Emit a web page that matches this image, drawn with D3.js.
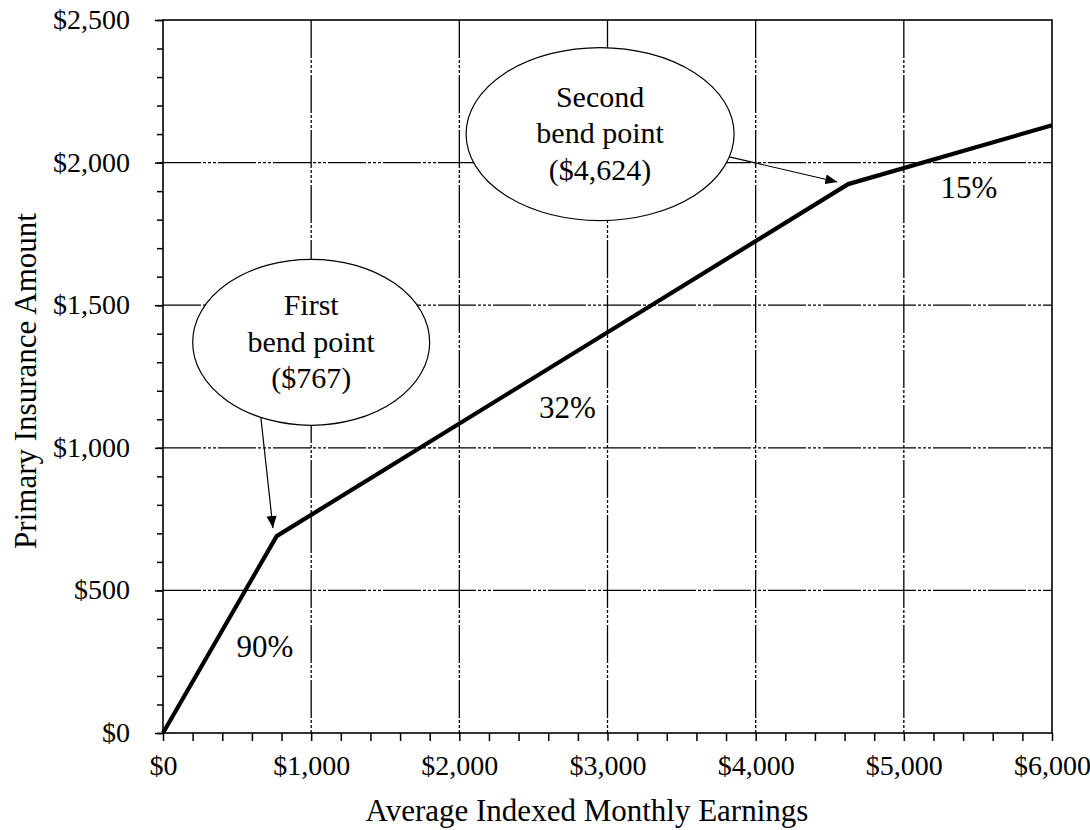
<!DOCTYPE html>
<html>
<head>
<meta charset="utf-8">
<script src="https://cdn.jsdelivr.net/npm/d3@7"></script>
<style>
  html, body { margin: 0; padding: 0; background: #fff; }
  svg text { font-family: "Liberation Serif", "Times New Roman", serif; fill: #000; }
</style>
</head>
<body>
<svg id="chart" width="1090" height="830"></svg>
<script>
// ---- Data ----
const aime = [0, 767, 4624, 6000];
const pia = [0, 690.3, 1924.5, 2130.9];
const xTicks = [0, 1000, 2000, 3000, 4000, 5000, 6000];
const xTickLabels = ["$0", "$1,000", "$2,000", "$3,000", "$4,000", "$5,000", "$6,000"];
const yTicks = [0, 500, 1000, 1500, 2000, 2500];
const yTickLabels = ["$0", "$500", "$1,000", "$1,500", "$2,000", "$2,500"];
const rateLabels = ["90%", "32%", "15%"];
const rateLabelX = [688, 2730, 5440];
const rateLabelY = [266, 1104, 1876];
const bubbleLines = [["First", "bend point", "($767)"], ["Second", "bend point", "($4,624)"]];
const bubbleCx = [1000, 2950];
const bubbleCy = [1370, 2100];
const arrowFromX = [661, 3822];
const arrowFromY = [1104, 2020];
const arrowToX = [742, 4551];
const arrowToY = [719, 1932];
const xTitle = "Average Indexed Monthly Earnings";
const yTitle = "Primary Insurance Amount";

// ---- Layout ----
const svg = d3.select("#chart");
const pL = 163, pR = 1052, pT = 20, pB = 733;
const x = d3.scaleLinear().domain([0, 6000]).range([pL, pR]);
const y = d3.scaleLinear().domain([0, 2500]).range([pB, pT]);
const TICK_FONT = 28, TITLE_FONT = 31, NOTE_FONT = 30, RATE_FONT = 31;
const dash = "38,2,3,2,3,2,3,2";

// grid lines
svg.append("g").selectAll("line").data(xTicks.slice(1, -1)).join("line")
  .attr("x1", d => x(d)).attr("x2", d => x(d)).attr("y1", pT).attr("y2", pB)
  .attr("stroke", "#000").attr("stroke-width", 1.3).attr("stroke-dasharray", dash);
svg.append("g").selectAll("line").data(yTicks.slice(1, -1)).join("line")
  .attr("x1", pL).attr("x2", pR).attr("y1", d => y(d)).attr("y2", d => y(d))
  .attr("stroke", "#000").attr("stroke-width", 1.3).attr("stroke-dasharray", dash);

// frame
svg.append("rect").attr("x", pL).attr("y", pT).attr("width", pR - pL).attr("height", pB - pT)
  .attr("fill", "none").attr("stroke", "#000").attr("stroke-width", 1.6);

// axes with minor ticks
const xMinor = d3.range(0, 6001, 200);
const yMinor = d3.range(0, 2501, 100);
const xAxisG = svg.append("g").attr("transform", `translate(0,${pB})`)
  .call(d3.axisBottom(x).tickValues(xMinor).tickSize(8).tickFormat(""));
xAxisG.select(".domain").remove();
xAxisG.selectAll("line").attr("stroke", "#000").attr("stroke-width", 1.5);
const xLab = svg.append("g").attr("transform", `translate(0,${pB})`)
  .call(d3.axisBottom(x).tickValues(xTicks).tickSize(0).tickPadding(22)
    .tickFormat((d, i) => xTickLabels[i]));
xLab.select(".domain").remove();
xLab.selectAll("text").attr("font-size", TICK_FONT).style("font-family", "Liberation Serif");

const yAxisG = svg.append("g").attr("transform", `translate(${pL},0)`)
  .call(d3.axisLeft(y).tickValues(yMinor).tickSize(6).tickFormat(""));
yAxisG.select(".domain").remove();
yAxisG.selectAll("line").attr("stroke", "#000").attr("stroke-width", 1.5);
const yMajG = svg.append("g").attr("transform", `translate(${pL},0)`)
  .call(d3.axisLeft(y).tickValues(yTicks).tickSize(8).tickPadding(25)
    .tickFormat((d, i) => yTickLabels[i]));
yMajG.select(".domain").remove();
yMajG.selectAll("line").attr("stroke", "#000").attr("stroke-width", 1.5);
yMajG.selectAll("text").attr("font-size", TICK_FONT).attr("dy", "0.3em").style("font-family", "Liberation Serif");

// axis titles
svg.append("text").attr("x", 587).attr("y", 821)
  .attr("text-anchor", "middle").attr("font-size", TITLE_FONT).text(xTitle);
svg.append("text").attr("transform", `translate(36,381) rotate(-90)`)
  .attr("text-anchor", "middle").attr("font-size", TITLE_FONT).text(yTitle);

// data line
const line = d3.line().x((d, i) => x(aime[i])).y((d, i) => y(pia[i]));
svg.append("path").datum(aime).attr("d", line)
  .attr("fill", "none").attr("stroke", "#000").attr("stroke-width", 4.2).attr("stroke-linejoin", "round");

// rate labels
svg.append("g").selectAll("text").data(rateLabels).join("text")
  .attr("x", (d, i) => x(rateLabelX[i])).attr("y", (d, i) => y(rateLabelY[i]))
  .attr("text-anchor", "middle").attr("font-size", RATE_FONT).text(d => d);

// arrow marker
svg.append("defs").append("marker").attr("id", "arr")
  .attr("viewBox", "0 0 12 10").attr("refX", 12).attr("refY", 5)
  .attr("markerWidth", 12).attr("markerHeight", 10).attr("markerUnits", "userSpaceOnUse")
  .attr("orient", "auto")
  .append("path").attr("d", "M0,0 L12,5 L0,10 Z").attr("fill", "#000");

// bubbles
const rx = [118.5, 134], ry = [83, 86.5];
bubbleLines.forEach((lines, i) => {
  svg.append("line")
    .attr("x1", x(arrowFromX[i])).attr("y1", y(arrowFromY[i]))
    .attr("x2", x(arrowToX[i])).attr("y2", y(arrowToY[i]))
    .attr("stroke", "#000").attr("stroke-width", 1.2).attr("marker-end", "url(#arr)");
  const cx = x(bubbleCx[i]), cy = y(bubbleCy[i]);
  svg.append("ellipse").attr("cx", cx).attr("cy", cy).attr("rx", rx[i]).attr("ry", ry[i])
    .attr("fill", "#fff").attr("stroke", "#000").attr("stroke-width", 1.2);
  lines.forEach((t, j) => {
    svg.append("text").attr("x", cx).attr("y", cy - 27.5 + j * 36.8)
      .attr("text-anchor", "middle").attr("font-size", NOTE_FONT).text(t);
  });
});
</script>
</body>
</html>
